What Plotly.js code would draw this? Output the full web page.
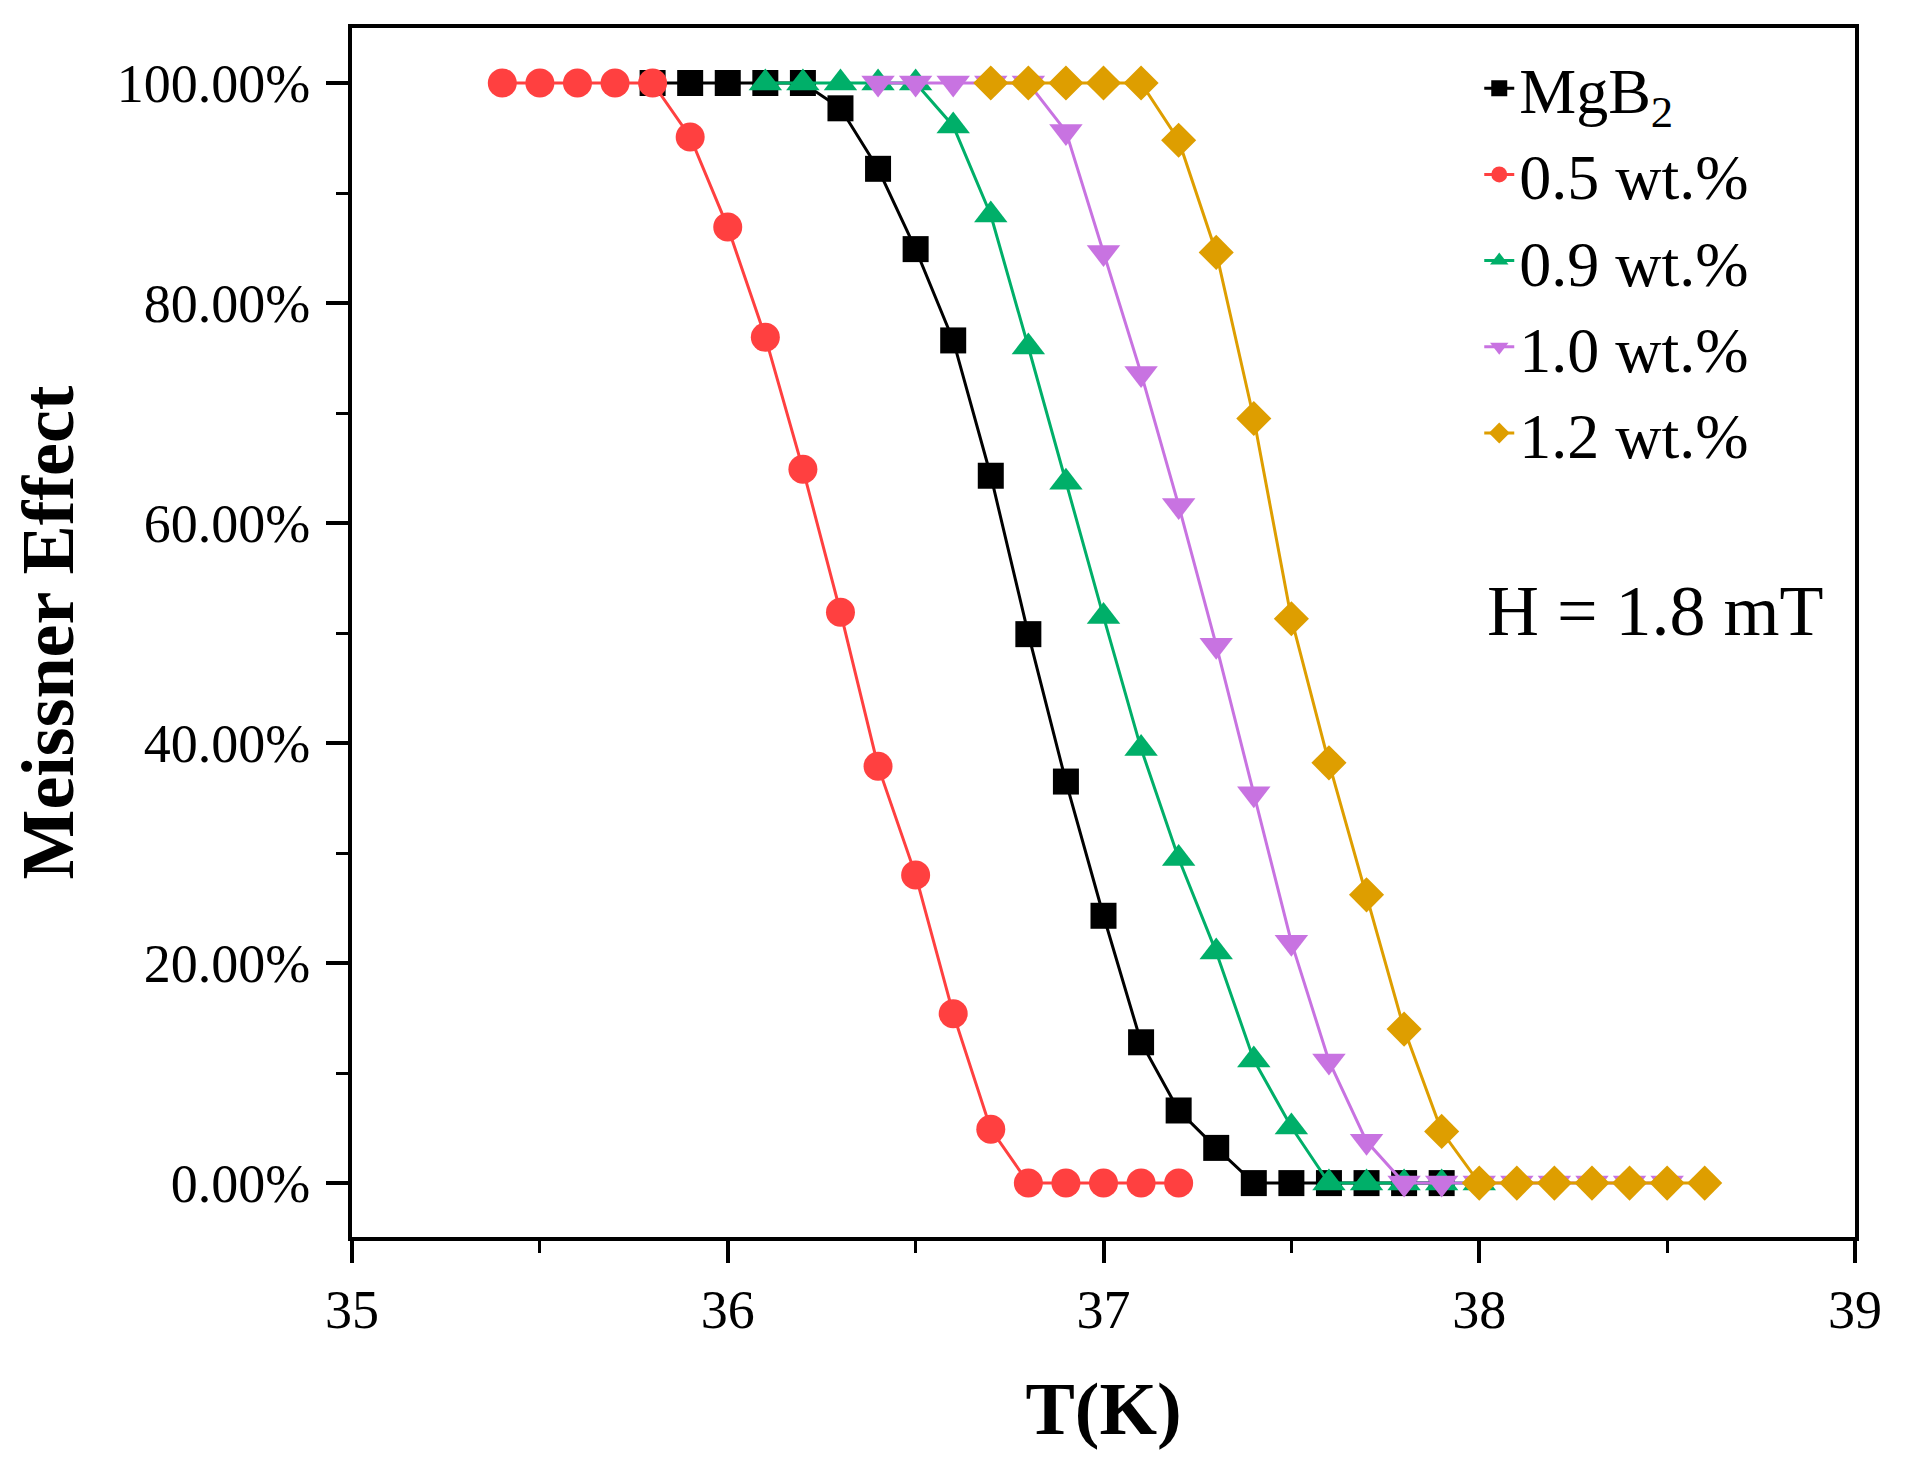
<!DOCTYPE html>
<html>
<head>
<meta charset="utf-8">
<script src="https://cdn.plot.ly/plotly-3.0.1.min.js"></script>
<style>
  html, body { margin: 0; padding: 0; background: #fff; }
  #plot { width: 1906px; height: 1476px; }
</style>
</head>
<body>
<div id="plot"></div>
<script>
// temperatures (K) and Meissner fraction (%)
var t_mgb2 = [35.8, 35.9, 36.0, 36.1, 36.2, 36.3, 36.4, 36.5, 36.6, 36.7, 36.8, 36.9, 37.0, 37.1, 37.2, 37.3, 37.4, 37.5, 37.6, 37.7, 37.8, 37.9];
var m_mgb2 = [100, 100, 100, 100, 100, 97.7, 92.2, 84.9, 76.6, 64.3, 49.9, 36.5, 24.3, 12.8, 6.6, 3.2, 0, 0, 0, 0, 0, 0];

var t_05 = [35.4, 35.5, 35.6, 35.7, 35.8, 35.9, 36.0, 36.1, 36.2, 36.3, 36.4, 36.5, 36.6, 36.7, 36.8, 36.9, 37.0, 37.1, 37.2];
var m_05 = [100, 100, 100, 100, 100, 95.1, 86.9, 76.9, 64.9, 51.9, 37.9, 28.0, 15.4, 4.9, 0, 0, 0, 0, 0];

var t_09 = [36.1, 36.2, 36.3, 36.4, 36.5, 36.6, 36.7, 36.8, 36.9, 37.0, 37.1, 37.2, 37.3, 37.4, 37.5, 37.6, 37.7, 37.8, 37.9, 38.0];
var m_09 = [100, 100, 100, 100, 100, 96.1, 88.0, 76.0, 63.7, 51.5, 39.5, 29.5, 21.0, 11.2, 5.1, 0, 0, 0, 0, 0];

var t_10 = [36.4, 36.5, 36.6, 36.7, 36.8, 36.9, 37.0, 37.1, 37.2, 37.3, 37.4, 37.5, 37.6, 37.7, 37.8, 37.9, 38.0, 38.1, 38.2, 38.3, 38.4, 38.5];
var m_10 = [100, 100, 100, 100, 100, 95.6, 84.6, 73.6, 61.6, 48.9, 35.4, 21.9, 11.1, 3.8, 0, 0, 0, 0, 0, 0, 0, 0];

var t_12 = [36.7, 36.8, 36.9, 37.0, 37.1, 37.2, 37.3, 37.4, 37.5, 37.6, 37.7, 37.8, 37.9, 38.0, 38.1, 38.2, 38.3, 38.4, 38.5, 38.6];
var m_12 = [100, 100, 100, 100, 100, 94.8, 84.6, 69.5, 51.3, 38.2, 26.2, 14.0, 4.7, 0, 0, 0, 0, 0, 0, 0];

var serif = "'Liberation Serif', 'Times New Roman', serif";

function series(name, x, y, color, symbol, size) {
    return {
        type: "scatter",
        mode: "lines+markers",
        name: name,
        x: x,
        y: y,
        line: {color: color, width: 3},
        marker: {color: color, symbol: symbol, size: size}
    };
}

var data = [
    series("MgB<sub>2</sub>", t_mgb2, m_mgb2, "#000000", "square", 26),
    series("0.5 wt.%", t_05, m_05, "#FF4040", "circle", 29),
    series("0.9 wt.%", t_09, m_09, "#00AF69", "triangle-up", 29),
    series("1.0 wt.%", t_10, m_10, "#C873E1", "triangle-down", 29),
    series("1.2 wt.%", t_12, m_12, "#DE9E00", "diamond", 27)
];

var axisCommon = {
    showline: true,
    linecolor: "#000",
    linewidth: 4,
    mirror: true,
    showgrid: false,
    zeroline: false,
    ticks: "outside",
    ticklen: 22,
    tickwidth: 4,
    tickcolor: "#000",
    tickfont: {family: serif, size: 54, color: "#000"}
};

var layout = {
    width: 1906,
    height: 1476,
    margin: {l: 352, r: 51, t: 28, b: 239, pad: 0},
    paper_bgcolor: "#fff",
    plot_bgcolor: "#fff",
    font: {family: serif, color: "#000"},
    xaxis: Object.assign({}, axisCommon, {
        range: [35, 39],
        dtick: 1,
        ticklabelstandoff: 0,
        minor: {dtick: 0.5, ticks: "outside", ticklen: 12, tickwidth: 3, tickcolor: "#000"},
        title: {text: "<b>T(K)</b>", font: {family: serif, size: 74, color: "#000"}, standoff: 44}
    }),
    yaxis: Object.assign({}, axisCommon, {
        range: [-4.9, 105],
        dtick: 20,
        tickformat: ".2f",
        ticksuffix: "%",
        ticklabelstandoff: 5,
        minor: {dtick: 10, ticks: "outside", ticklen: 12, tickwidth: 3, tickcolor: "#000"},
        title: {text: "<b>Meissner Effect</b>", font: {family: serif, size: 74, color: "#000"}, standoff: 20}
    }),
    showlegend: true,
    legend: {
        x: 0.75, y: 0.99,
        xanchor: "left", yanchor: "top",
        bgcolor: "rgba(0,0,0,0)",
        borderwidth: 0,
        font: {family: serif, size: 64, color: "#000"}
    },
    annotations: [{
        x: 38.47, y: 52,
        xref: "x", yref: "y",
        text: "H = 1.8 mT",
        showarrow: false,
        font: {family: serif, size: 72, color: "#000"}
    }]
};

Plotly.newPlot("plot", data, layout, {displayModeBar: false, staticPlot: true});
</script>
</body>
</html>
